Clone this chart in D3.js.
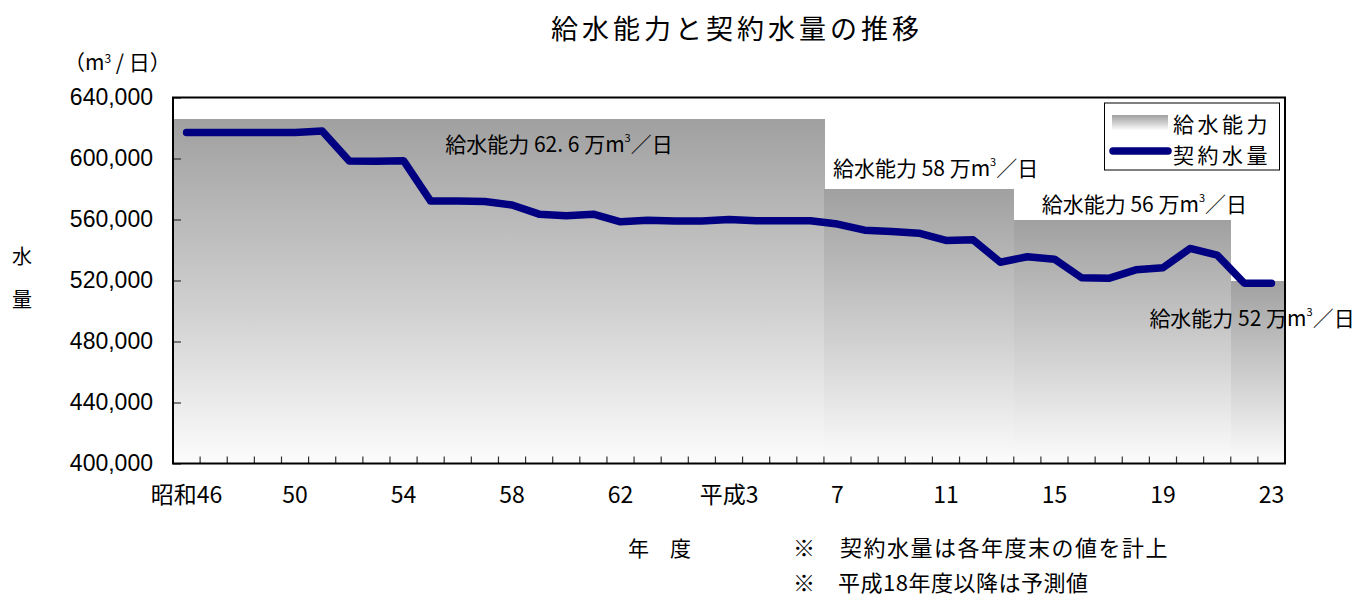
<!DOCTYPE html>
<html>
<head>
<meta charset="utf-8">
<script src="https://cdn.jsdelivr.net/npm/d3@7"></script>
<style>
  body { margin: 0; background: #fff; }
  svg { display: block; }
</style>
</head>
<body>
<svg id="chart" width="1355" height="597"></svg>
<script>
// Fiscal years 昭和46 (1971) – 平成23 (2011)
const categories = [
  "昭和46","47","48","49","50","51","52","53","54","55","56","57","58","59","60","61","62","63",
  "平成元","2","3","4","5","6","7","8","9","10","11","12","13","14","15","16","17","18","19","20","21","22","23"
];
const tickLabels = ["昭和46","50","54","58","62","平成3","7","11","15","19","23"];

// 給水能力 (m³/日) per fiscal year
const supplyCapacity = [
  626000,626000,626000,626000,626000,626000,626000,626000,626000,626000,626000,626000,
  626000,626000,626000,626000,626000,626000,626000,626000,626000,626000,626000,626000,
  580000,580000,580000,580000,580000,580000,580000,
  560000,560000,560000,560000,560000,560000,560000,560000,
  520000,520000
];

// 契約水量 (m³/日) per fiscal year
const contractVolume = [
  617000,617000,617000,617000,617000,618000,598300,598200,598600,572100,572100,571800,
  569500,563500,562500,563500,558500,559500,559000,559000,560000,559200,559200,559200,
  557000,553000,552200,551000,546300,546700,532000,535600,534000,521800,521400,527000,
  528400,541000,536700,518200,518200
];

const yTicks = [400000,440000,480000,520000,560000,600000,640000];

// Capacity period captions
const capacityCaptionValues = ["62. 6","58","56","52"];

const svg = d3.select("#chart");
const plot = { left: 173, right: 1285, top: 97.5, bottom: 463.5 };

const x = d3.scaleBand().domain(categories).range([plot.left, plot.right]).padding(0);
const y = d3.scaleLinear().domain([400000, 640000]).range([plot.bottom, plot.top]);
const bw = x.bandwidth();

const jp = "'Noto Sans CJK JP', 'Noto Sans', sans-serif";
const num = "'Liberation Sans', Arial, sans-serif";

// gradient used by the capacity columns and the legend swatch
const defs = svg.append("defs");
const grad = defs.append("linearGradient").attr("id", "capGrad")
  .attr("x1", 0).attr("y1", 0).attr("x2", 0).attr("y2", 1);
grad.append("stop").attr("offset", "0%").attr("stop-color", "#a0a0a0");
grad.append("stop").attr("offset", "55%").attr("stop-color", "#d0d0d0");
grad.append("stop").attr("offset", "100%").attr("stop-color", "#fcfcfc");

// Title
svg.append("text")
  .attr("x", 737).attr("y", 39)
  .attr("text-anchor", "middle")
  .style("font-family", jp).style("font-size", "27px")
  .style("letter-spacing", "4px")
  .text("給水能力と契約水量の推移");

// Capacity columns
svg.append("g").selectAll("rect")
  .data(categories.map((c, i) => ({ c, v: supplyCapacity[i] })))
  .join("rect")
  .attr("x", d => x(d.c))
  .attr("width", bw + 0.6)
  .attr("y", d => y(d.v))
  .attr("height", d => y(400000) - y(d.v))
  .attr("fill", "url(#capGrad)")
  .attr("shape-rendering", "crispEdges");

// Y axis
const yAxis = d3.axisLeft(y).tickValues(yTicks)
  .tickSizeInner(-8).tickSizeOuter(0)
  .tickPadding(20)
  .tickFormat(d3.format(","));
const gy = svg.append("g").attr("transform", `translate(${plot.left},0)`).call(yAxis);
gy.select(".domain").remove();
gy.selectAll(".tick line").attr("stroke", "#333").attr("stroke-width", 1.2);
gy.selectAll(".tick text")
  .style("font-family", num).style("font-size", "23px").attr("fill", "#000");

// X axis: boundary ticks between years, labels every 4 years
const boundaries = categories.map(c => x(c)).concat([plot.right]);
svg.append("g").selectAll("line")
  .data(boundaries)
  .join("line")
  .attr("x1", d => d).attr("x2", d => d)
  .attr("y1", plot.bottom).attr("y2", plot.bottom - 7)
  .attr("stroke", "#333").attr("stroke-width", 1.2);

const tickCats = categories.filter((c, i) => i % 4 === 0);
const xAxis = d3.axisBottom(x).tickValues(tickCats)
  .tickSize(0).tickPadding(23)
  .tickFormat((d, i) => tickLabels[i]);
const gx = svg.append("g").attr("transform", `translate(0,${plot.bottom})`).call(xAxis);
gx.select(".domain").remove();
gx.selectAll(".tick text")
  .style("font-family", jp).style("font-size", "23px").attr("fill", "#000");

// Plot frame
svg.append("rect")
  .attr("x", plot.left).attr("y", plot.top)
  .attr("width", plot.right - plot.left).attr("height", plot.bottom - plot.top)
  .attr("fill", "none").attr("stroke", "#000").attr("stroke-width", 2);

// Contract volume line
const line = d3.line()
  .x((d, i) => x(categories[i]) + bw / 2)
  .y(d => y(d));
svg.append("path")
  .datum(contractVolume)
  .attr("d", line)
  .attr("fill", "none")
  .attr("stroke", "#000080")
  .attr("stroke-width", 7.5)
  .attr("stroke-linejoin", "round")
  .attr("stroke-linecap", "round");

// Capacity captions, placed relative to each period
const periodStarts = [0, 24, 31, 39];
const captionPlacement = [
  { cat: 10, dx: 1,  dy: 24 },
  { cat: 24, dx: 9,  dy: -22 },
  { cat: 31, dx: 28, dy: -17 },
  { cat: 36, dx: 0,  dy: 36 }
];
captionPlacement.forEach((p, k) => {
  const v = supplyCapacity[periodStarts[k]];
  const t = svg.append("text")
    .attr("x", x(categories[p.cat]) + p.dx)
    .attr("y", y(v) + p.dy)
    .attr("dominant-baseline", "central")
    .style("font-family", jp).style("font-size", "21px").attr("fill", "#000");
  t.append("tspan").text("給水能力 " + capacityCaptionValues[k] + " 万m");
  t.append("tspan").attr("baseline-shift", "55%").style("font-size", "11px").text("3");
  t.append("tspan").text("／日");
});

// Unit label
const unit = svg.append("text")
  .attr("x", 64).attr("y", 70)
  .style("font-family", jp).style("font-size", "21px");
unit.append("tspan").text("（m");
unit.append("tspan").attr("baseline-shift", "55%").style("font-size", "12px").text("3");
unit.append("tspan").text(" / 日）");

// Y axis title
["水", "量"].forEach((ch, i) => {
  svg.append("text")
    .attr("x", 22).attr("y", 264 + i * 43)
    .attr("text-anchor", "middle")
    .style("font-family", jp).style("font-size", "20px")
    .text(ch);
});

// Legend
const lg = svg.append("g");
lg.append("rect")
  .attr("x", 1104.5).attr("y", 103).attr("width", 175).attr("height", 67)
  .attr("fill", "#fff").attr("stroke", "#000").attr("stroke-width", 1);
lg.append("rect")
  .attr("x", 1112).attr("y", 115).attr("width", 56).attr("height", 15)
  .attr("fill", "url(#capGrad)");
lg.append("line")
  .attr("x1", 1113).attr("x2", 1168).attr("y1", 151).attr("y2", 151)
  .attr("stroke", "#000080").attr("stroke-width", 7.5).attr("stroke-linecap", "round");
lg.append("text").attr("x", 1173).attr("y", 123).attr("dominant-baseline", "central")
  .style("font-family", jp).style("font-size", "21px").style("letter-spacing", "3.5px")
  .text("給水能力");
lg.append("text").attr("x", 1173).attr("y", 154).attr("dominant-baseline", "central")
  .style("font-family", jp).style("font-size", "21px").style("letter-spacing", "3.5px")
  .text("契約水量");

// Axis caption and notes
svg.append("text").attr("x", 628).attr("y", 556)
  .style("font-family", jp).style("font-size", "21px")
  .text("年　度");
svg.append("text").attr("x", 793).attr("y", 556)
  .style("font-family", jp).style("font-size", "22px").style("letter-spacing", "1.5px")
  .text("※　契約水量は各年度末の値を計上");
svg.append("text").attr("x", 793).attr("y", 591)
  .style("font-family", jp).style("font-size", "22px").style("letter-spacing", "0.5px")
  .text("※　平成18年度以降は予測値");
</script>
</body>
</html>
